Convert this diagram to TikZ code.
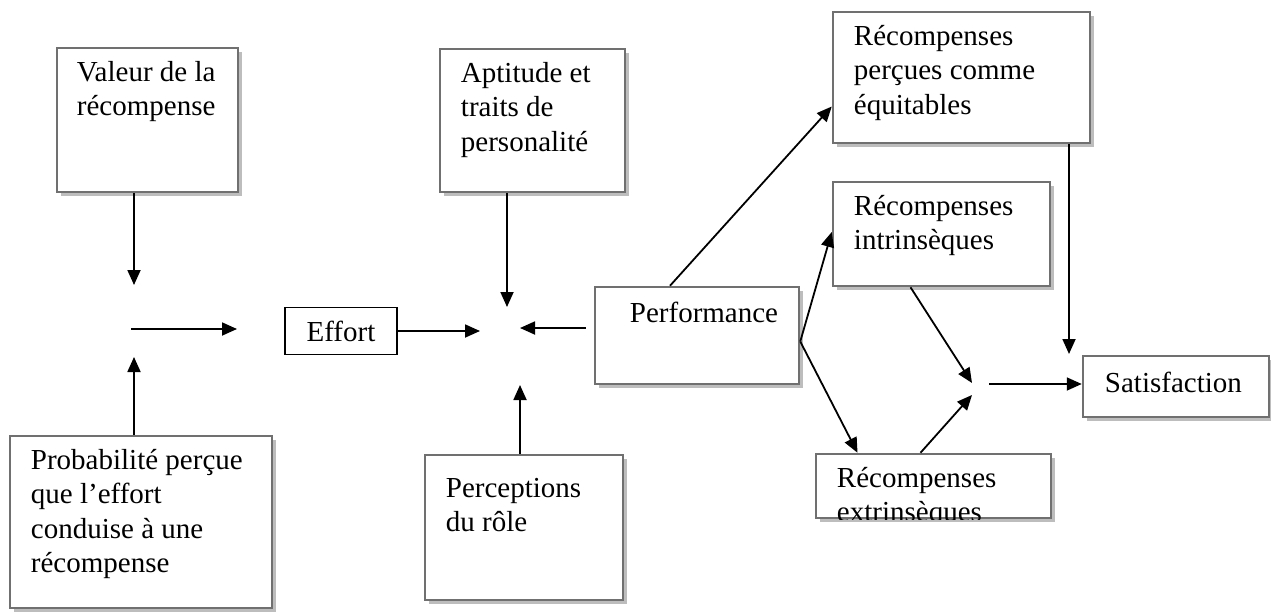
\documentclass[tikz,border=0pt]{standalone}
\usepackage{fontspec}
\setmainfont{Liberation Serif}
\usetikzlibrary{arrows.meta,shadows}
\definecolor{framegray}{HTML}{707070}
\definecolor{shadegray}{HTML}{BDBDBD}
\tikzset{
  box/.style={draw=framegray, line width=2.5pt, fill=white, inner sep=0pt,
    drop shadow={shadow xshift=4pt, shadow yshift=-4pt, fill=shadegray, opacity=1}},
  plainbox/.style={draw=black, line width=1.6pt, fill=white, inner sep=0pt,
    font=\fontsize{29}{34.5}\selectfont},
  lbl/.style={anchor=north west, inner sep=0pt, align=left,
    font=\fontsize{29}{34.5}\selectfont, execute at begin node=\strut},
  link/.style={draw=black, line width=1.8pt, -{Triangle[length=15pt,width=13pt]}},
}
\begin{document}
\begin{tikzpicture}[x=1pt,y=-1pt]
\useasboundingbox (0,0) rectangle (1271,613);

% framed boxes (centre, width, height)
\node[box, minimum width=181pt, minimum height=144pt] (val) at (147.5,120) {};
\node[box, minimum width=262pt, minimum height=172pt] (prob) at (141,522) {};
\node[box, minimum width=185pt, minimum height=143pt] (apt) at (532.5,120.5) {};
\node[box, minimum width=198pt, minimum height=145pt] (perc) at (524,527.5) {};
\node[box, minimum width=204pt, minimum height=97pt] (perf) at (697,335.5) {};
\node[box, minimum width=257pt, minimum height=131pt] (req) at (961.5,77.5) {};
\node[box, minimum width=217pt, minimum height=104pt] (rin) at (941.5,234) {};
\node[box, minimum width=235pt, minimum height=64pt] (rex) at (933.5,486) {};
\node[box, minimum width=186pt, minimum height=61pt] (sat) at (1176,386.5) {};
\node[plainbox, minimum width=112pt, minimum height=47pt] (eff) at (341,331) {Effort};

% box texts
\node[lbl] (valt) at ([shift={(21,14)}]val.north west) {Valeur de la\\récompense};
\node[lbl] (probt) at ([shift={(22,14)}]prob.north west) {Probabilité perçue\\que l’effort\\conduise à une\\récompense};
\node[lbl] (aptt) at ([shift={(22,14)}]apt.north west) {Aptitude et\\traits de\\personalité};
\node[lbl] (perct) at ([shift={(22,24)}]perc.north west) {Perceptions\\du rôle};
\node[lbl] (perft) at ([shift={(36,12)}]perf.north west) {Performance};
\node[lbl] (reqt) at ([shift={(22,14)}]req.north west) {Récompenses\\perçues comme\\équitables};
\node[lbl] (rint) at ([shift={(22,14)}]rin.north west) {Récompenses\\intrinsèques};
\begin{scope}
  \clip (rex.north west) rectangle (rex.south east);
  \node[lbl] (rext) at ([shift={(22,14)}]rex.north west) {Récompenses\\extrinsèques};
\end{scope}
\node[lbl] (satt) at ([shift={(23,13)}]sat.north west) {Satisfaction};

% free ends of the connectors
\coordinate (vtip) at (134,285);
\coordinate (ptip) at (134,357);
\coordinate (hstart) at (131,329);
\coordinate (htip) at (237,329);
\coordinate (etip) at (480,331);
\coordinate (atip) at (507,307);
\coordinate (pftip) at (520,328);
\coordinate (pctip) at (520,385);
\coordinate (ritip) at (972,383);
\coordinate (rxtip) at (972,395);
\coordinate (sstart) at (989,384);
\coordinate (retip) at (1069,354);

% connectors
\draw[link] (val.south -| vtip) -- (vtip);
\draw[link] (prob.north -| ptip) -- (ptip);
\draw[link] (hstart) -- (htip);
\draw[link] (eff.east) -- (etip);
\draw[link] (apt.south -| atip) -- (atip);
\draw[link] ([xshift=-8pt]perf.west |- pftip) -- (pftip);
\draw[link] (perc.north -| pctip) -- (pctip);
\draw[link] ([xshift=-27pt]perf.north) -- ([yshift=-29pt]req.west);
\draw[link] ([yshift=-6pt]perf.east) -- ([yshift=2pt]rin.west);
\draw[link] ([yshift=-6pt]perf.east) -- ([xshift=-76pt]rex.north);
\draw[link] ([xshift=-31pt]rin.south) -- (ritip);
\draw[link] ([xshift=-13pt]rex.north) -- (rxtip);
\draw[link] (sstart) -- (sat.west |- sstart);
\draw[link] (req.south -| retip) -- (retip);
\end{tikzpicture}
\end{document}
